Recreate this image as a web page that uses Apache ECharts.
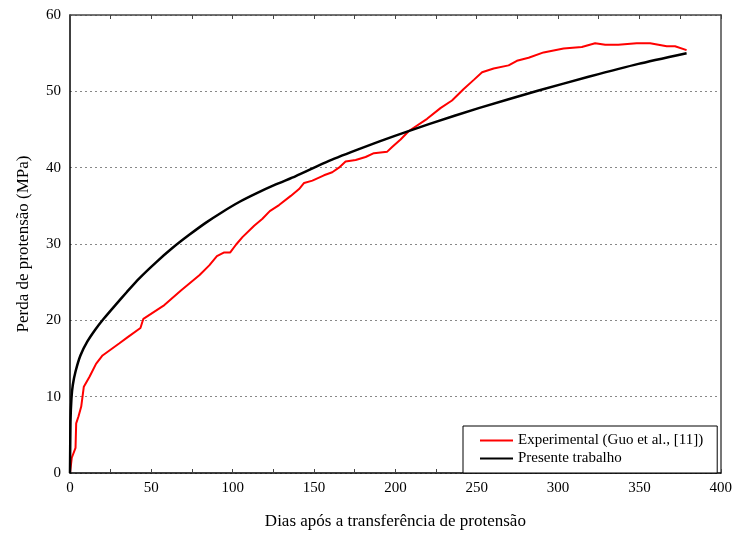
<!DOCTYPE html>
<html>
<head>
<meta charset="utf-8">
<script src="https://cdn.jsdelivr.net/npm/echarts@6/dist/echarts.min.js"></script>
<style>html,body{margin:0;padding:0;background:#fff}#c{width:735px;height:535px}</style>
</head>
<body>
<div id="c"></div>
<script>
// Experimental (Guo et al., [11]) : [day, MPa]
var expDays = [0, 1.1, 3.4, 3.8, 5.2, 6.9, 8.5, 12, 16, 20, 30.4, 35.5, 43.3, 45.1, 58, 68.2, 79.5, 85.6, 90.3, 94.8, 98.5, 102, 106, 113.2, 118.3, 122.8, 128.5, 135.7, 140.8, 143.9, 149, 156.1, 161.2, 165.3, 169.4, 175.6, 181.7, 186.8, 195, 198, 203.2, 208.3, 219.5, 227.7, 234.8, 242, 248.2, 253.3, 260.4, 269.6, 274.7, 281.9, 291.1, 303.4, 314.6, 322.8, 329, 337, 348.3, 356.6, 361.7, 366.8, 371.9, 379];
var expLoss = [0, 2.0, 3.3, 6.5, 7.4, 8.7, 11.3, 12.6, 14.3, 15.4, 17.0, 17.8, 19.0, 20.2, 22.0, 23.9, 25.9, 27.2, 28.4, 28.9, 28.9, 29.9, 30.9, 32.4, 33.3, 34.3, 35.1, 36.3, 37.2, 38.0, 38.3, 39.0, 39.4, 40.0, 40.8, 41.0, 41.4, 41.9, 42.1, 42.7, 43.7, 44.8, 46.4, 47.8, 48.8, 50.3, 51.5, 52.5, 53.0, 53.4, 54.0, 54.4, 55.1, 55.6, 55.8, 56.3, 56.1, 56.1, 56.3, 56.3, 56.1, 55.9, 55.9, 55.4];
// Presente trabalho : [day, MPa]
var modDays = [0, 0.3, 0.9, 1.7, 3.4, 6.4, 10.6, 15.6, 20.7, 27.9, 35.1, 42.6, 52.9, 63.1, 73.3, 83.6, 93.7, 104, 114.2, 126.5, 138.8, 159.2, 179.6, 200.1, 220.6, 251.2, 288, 318.7, 349.4, 379];
var modLoss = [0, 6.7, 9.8, 11.5, 13.3, 15.4, 17.2, 18.8, 20.2, 22.0, 23.75, 25.5, 27.6, 29.5, 31.2, 32.8, 34.2, 35.5, 36.6, 37.8, 38.9, 40.9, 42.6, 44.2, 45.7, 47.8, 50.1, 51.9, 53.6, 55.0];
var xTicks = [0, 50, 100, 150, 200, 250, 300, 350, 400];
var yTicks = [0, 10, 20, 30, 40, 50, 60];
var seriesNames = ['Experimental (Guo et al., [11])', 'Presente trabalho'];

function zip(a, b) { return a.map(function (v, i) { return [v, b[i]]; }); }

var font = 'Liberation Serif, Times New Roman, serif';
var chart = echarts.init(document.getElementById('c'), null, { renderer: 'canvas' });
chart.setOption({
  animation: false,
  backgroundColor: '#fff',
  textStyle: { fontFamily: font },
  grid: { left: 70, right: 13, top: 15, bottom: 60, containLabel: false },
  legend: {
    orient: 'vertical',
    left: 463, top: 426,
    padding: [6, 14, 6, 17],
    itemGap: 1,
    itemWidth: 33, itemHeight: 2,
    icon: 'rect',
    borderColor: '#000', borderWidth: 1,
    backgroundColor: '#fff',
    textStyle: { fontFamily: font, fontSize: 15, color: '#000', lineHeight: 17 },
    data: seriesNames
  },
  xAxis: [{
    type: 'value', min: xTicks[0], max: xTicks[xTicks.length - 1], interval: 25,
    name: 'Dias após a transferência de protensão',
    nameLocation: 'middle', nameGap: 40,
    nameTextStyle: { fontFamily: font, fontSize: 17, color: '#000' },
    axisLine: { show: true, onZero: false, lineStyle: { color: '#000', width: 1.5 } },
    axisTick: { show: true, inside: true, length: 4, lineStyle: { color: '#444' } },
    axisLabel: { fontFamily: font, fontSize: 15, color: '#000', margin: 8,
      formatter: function (v) { return xTicks.indexOf(v) >= 0 ? String(v) : ''; } },
    splitLine: { show: false }
  }, {
    type: 'value', position: 'top', min: 0, max: 400, interval: 25,
    axisLine: { show: true, onZero: false, lineStyle: { color: '#444', width: 1.5 } },
    axisTick: { show: true, inside: true, length: 4, lineStyle: { color: '#444' } },
    axisLabel: { show: false }, splitLine: { show: false }
  }],
  yAxis: [{
    type: 'value', min: yTicks[0], max: yTicks[yTicks.length - 1], interval: 10,
    name: 'Perda de protensão (MPa)',
    nameLocation: 'middle', nameGap: 38,
    nameTextStyle: { fontFamily: font, fontSize: 17, color: '#000' },
    axisLine: { show: true, onZero: false, lineStyle: { color: '#000', width: 1.5 } },
    axisTick: { show: false },
    axisLabel: { fontFamily: font, fontSize: 15, color: '#000', margin: 9 },
    splitLine: { show: true, lineStyle: { color: '#888', type: [2, 3], width: 1 } }
  }, {
    type: 'value', position: 'right', min: 0, max: 60, interval: 10,
    axisLine: { show: true, onZero: false, lineStyle: { color: '#777', width: 2 } },
    axisTick: { show: false }, axisLabel: { show: false }, splitLine: { show: false }
  }],
  series: [{
    name: seriesNames[0], type: 'line', showSymbol: false, symbol: 'none',
    data: zip(expDays, expLoss),
    lineStyle: { color: '#ff0000', width: 2 }, itemStyle: { color: '#ff0000' }
  }, {
    name: seriesNames[1], type: 'line', showSymbol: false, symbol: 'none',
    smooth: 0.2,
    data: zip(modDays, modLoss),
    lineStyle: { color: '#000', width: 2.5 }, itemStyle: { color: '#000' }
  }]
});
</script>
</body>
</html>
